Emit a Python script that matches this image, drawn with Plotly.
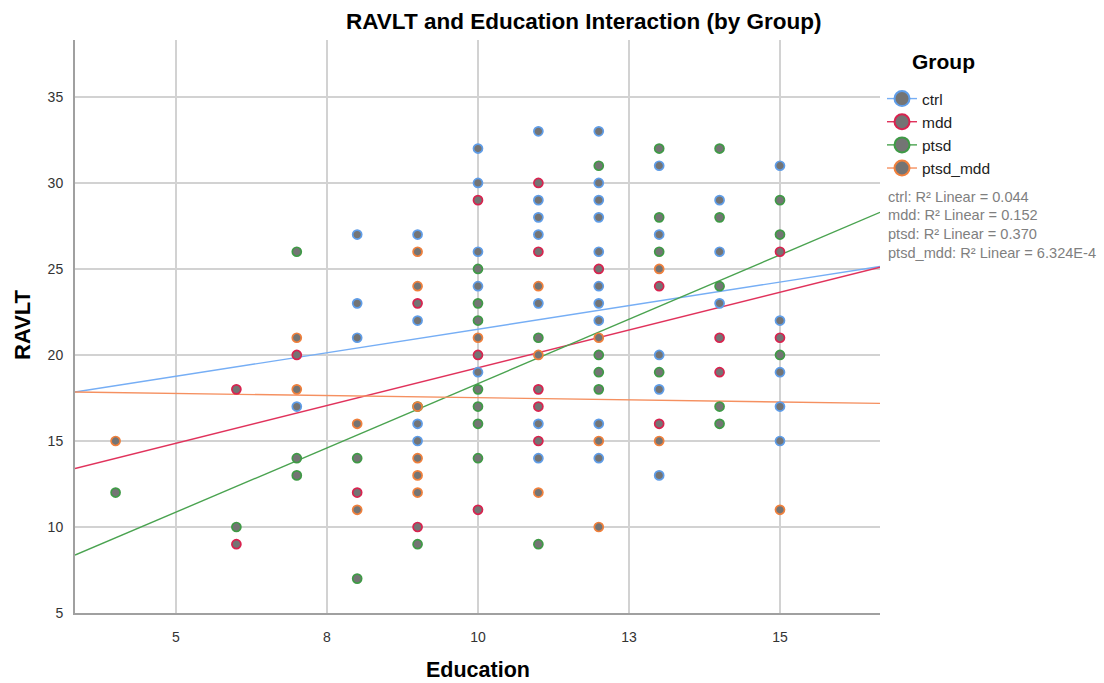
import plotly.graph_objects as go

# ---------------- data ----------------
groups = ["ctrl", "mdd", "ptsd", "ptsd_mdd"]

ctrl_x = [7, 8, 8, 8, 9, 9, 9, 9, 10, 10, 10, 10, 10,
          11, 11, 11, 11, 11, 11, 11,
          12, 12, 12, 12, 12, 12, 12, 12, 12, 12,
          13, 13, 13, 13, 13, 14, 14, 14, 15, 15, 15, 15, 15]
ctrl_y = [17, 27, 23, 21, 27, 22, 16, 15, 32, 30, 26, 24, 19,
          33, 29, 28, 27, 23, 16, 14,
          33, 30, 29, 28, 26, 24, 23, 22, 16, 14,
          31, 27, 20, 18, 13, 29, 26, 23, 31, 22, 19, 17, 15]

mdd_x = [6, 6, 7, 8, 9, 9, 10, 10, 10, 11, 11, 11, 11, 11, 12, 13, 13, 14, 14, 15, 15]
mdd_y = [18, 9, 20, 12, 23, 10, 29, 20, 11, 30, 26, 18, 17, 15, 25, 24, 16, 21, 19, 26, 21]

ptsd_x = [4, 6, 7, 7, 7, 8, 8, 9, 9, 10, 10, 10, 10, 10, 10, 10, 11, 11,
          12, 12, 12, 12, 13, 13, 13, 13, 14, 14, 14, 14, 14, 15, 15, 15]
ptsd_y = [12, 10, 26, 14, 13, 14, 7, 17, 9, 25, 23, 22, 18, 17, 16, 14, 21, 9,
          31, 20, 19, 18, 32, 28, 26, 19, 32, 28, 24, 17, 16, 29, 27, 20]

ptsd_mdd_x = [4, 7, 7, 8, 8, 9, 9, 9, 9, 9, 9, 10, 11, 11, 11, 12, 12, 12, 13, 13, 15]
ptsd_mdd_y = [15, 21, 18, 16, 11, 26, 24, 17, 14, 13, 12, 21, 24, 20, 12, 21, 15, 10, 25, 15, 11]

fit_slope = [0.548, 0.878, 1.495, -0.0495]
fit_intercept = [16.02, 10.48, 3.39, 18.01]
r2_text = ["0.044", "0.152", "0.370", "6.324E-4"]

x_tickvals = [5, 7.5, 10, 12.5, 15]
x_ticktext = ["5", "8", "10", "13", "15"]
y_tickvals = [5, 10, 15, 20, 25, 30, 35]

# ---------------- styling ----------------
colors = ["#5f9de8", "#d8234f", "#3f9a46", "#f0803c"]
line_colors = ["#76aef5", "#e0335c", "#4aa350", "#f59060"]
fill = "#747474"
font = "Liberation Sans, Arial, sans-serif"
xr = [3.328, 16.656]
yr = [5, 38.31]

xs = [ctrl_x, mdd_x, ptsd_x, ptsd_mdd_x]
ys = [ctrl_y, mdd_y, ptsd_y, ptsd_mdd_y]

fig = go.Figure()

# fit lines
for i, g in enumerate(groups):
    fx = list(xr)
    fy = [fit_intercept[i] + fit_slope[i] * v for v in fx]
    fig.add_trace(go.Scatter(x=fx, y=fy, mode="lines",
                             line=dict(color=line_colors[i], width=1.4),
                             showlegend=False, hoverinfo="skip"))

# points
for i, g in enumerate(groups):
    fig.add_trace(go.Scatter(x=xs[i], y=ys[i], mode="markers", name=g,
                             marker=dict(size=9, color=fill,
                                         line=dict(color=colors[i], width=1.7)),
                             showlegend=False))

# legend entries
for i, g in enumerate(groups):
    fig.add_trace(go.Scatter(x=[None], y=[None], mode="lines+markers", name=g,
                             marker=dict(size=15, color=fill,
                                         line=dict(color=colors[i], width=2)),
                             line=dict(color=line_colors[i], width=1.4)))

L, R, T, B = 75, 224, 40, 70
W, H = 1104, 683
pw, ph = W - L - R, H - T - B

def px(xp):
    return (xp - L) / pw

def py(yp):
    return (H - B - yp) / ph

annotations = [
    dict(text="<b>RAVLT and Education Interaction (by Group)</b>", x=px(583), y=py(21),
         xref="paper", yref="paper", xanchor="center", yanchor="middle", showarrow=False,
         font=dict(family=font, size=22.5, color="#000000")),
    dict(text="<b>Education</b>", x=px(478), y=py(670),
         xref="paper", yref="paper", xanchor="center", yanchor="middle", showarrow=False,
         font=dict(family=font, size=21.5, color="#000000")),
    dict(text="<b>RAVLT</b>", x=px(22), y=py(325), textangle=-90,
         xref="paper", yref="paper", xanchor="center", yanchor="middle", showarrow=False,
         font=dict(family=font, size=22, color="#000000")),
    dict(text="<b>Group</b>", x=px(943), y=py(62),
         xref="paper", yref="paper", xanchor="center", yanchor="middle", showarrow=False,
         font=dict(family=font, size=21, color="#000000")),
]
for i, g in enumerate(groups):
    annotations.append(dict(text=f"{g}: R² Linear = {r2_text[i]}", x=px(886), y=py(197 + 18.5 * i),
                            xref="paper", yref="paper", xanchor="left", yanchor="middle",
                            showarrow=False,
                            font=dict(family=font, size=14.6, color="#7f7f7f")))

fig.update_layout(
    width=W, height=H,
    margin=dict(l=L, r=R, t=T, b=B, autoexpand=False),
    paper_bgcolor="white", plot_bgcolor="white",
    font=dict(family=font, size=14, color="#333333"),
    annotations=annotations,
    legend=dict(x=px(882), y=py(82), xanchor="left", yanchor="top",
                font=dict(family=font, size=15.5, color="#222222"),
                bgcolor="rgba(0,0,0,0)", borderwidth=0, tracegroupgap=0),
    showlegend=True,
)
fig.update_xaxes(range=xr, tickvals=x_tickvals, ticktext=x_ticktext,
                 showgrid=True, gridcolor="#d2d2d2", gridwidth=2,
                 showline=True, linecolor="#a0a0a0", linewidth=2,
                 zeroline=False, ticks="", ticklabelstandoff=10,
                 tickfont=dict(family=font, size=14, color="#333333"))
fig.update_yaxes(range=yr, tickvals=y_tickvals,
                 showgrid=True, gridcolor="#d2d2d2", gridwidth=2,
                 showline=True, linecolor="#a0a0a0", linewidth=2,
                 zeroline=False, ticks="", ticklabelstandoff=7,
                 tickfont=dict(family=font, size=14, color="#333333"))

fig.write_html("out.html")
